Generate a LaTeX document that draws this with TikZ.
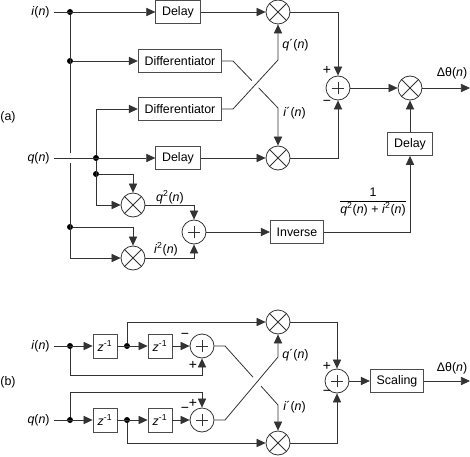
\documentclass[tikz,border=0pt]{standalone}
\usepackage{amsmath}
\usepackage{fontspec}
\setmainfont{Liberation Sans}
\usetikzlibrary{arrows.meta,calc}
\tikzset{every picture/.style={line width=0.6pt}}
\tikzset{
  wire/.style={draw=black!80},
  sigarrow/.style={draw=black!80, -{Triangle[length=6.8pt,width=6.2pt]}},
  blockbox/.style={draw=black!70, minimum height=17.25pt, inner xsep=4.8pt, inner ysep=0pt},
  zbox/.style={draw=black!70, minimum size=18pt, inner sep=0pt},
  mult/.style={circle, draw=black!80, minimum size=18pt, inner sep=0pt,
    path picture={\draw[black!80] (path picture bounding box.north west) -- (path picture bounding box.south east)
      (path picture bounding box.north east) -- (path picture bounding box.south west);}},
  adder/.style={circle, draw=black!80, minimum size=18pt, inner sep=0pt,
    path picture={\draw[black!80] ([xshift=-4.8pt]path picture bounding box.center) -- ([xshift=4.8pt]path picture bounding box.center)
      ([yshift=-4.8pt]path picture bounding box.center) -- ([yshift=4.8pt]path picture bounding box.center);}},
  jdot/.style={circle, fill=black, inner sep=0pt, minimum size=4.5pt},
  sgn/.style={inner sep=0.75pt, font=\fontsize{10.5}{12}\selectfont},
}

\begin{document}
\begin{tikzpicture}[x=0.75pt,y=0.75pt,yscale=-1,xscale=1,font=\fontsize{9.3}{11.2}\selectfont]
\path[use as bounding box] (0,0) rectangle (470,456);

%%%%%%%%%%%%%%%% (a)
%Shape: Rectangle
\node[blockbox] (dlyA1) at (178,12) {Delay};
\node[blockbox] (difA1) at (180,61) {Differentiator};
\node[blockbox] (difA2) at (180,109) {Differentiator};
\node[blockbox] (dlyA2) at (178,158) {Delay};
\node[blockbox] (dlyA3) at (410,144) {Delay};
\node[blockbox] (invA) at (297,232) {Inverse};
%Shape: Circle
\node[mult] (mulA1) at (278,12) {};
\node[mult] (mulA2) at (278,158) {};
\node[mult] (mulA3) at (410,88) {};
\node[mult] (sqQ) at (133,205) {};
\node[mult] (sqI) at (133,258) {};
\node[adder] (addA1) at (338,88) {};
\node[adder] (addA2) at (194,232) {};
%Shape: Dots
\node[jdot] (jA1) at (70,12) {};
\node[jdot] (jA2) at (70,61) {};
\node[jdot] (jA3) at (70,227) {};
\node[jdot] (jA4) at (96,158) {};
\node[jdot] (jA5) at (96,174) {};
\coordinate (hopAt) at (70,153);
\coordinate (hopAb) at (70,163);
\coordinate (kneeAi) at (233,61);
\coordinate (turnAi) at (278,108);
\coordinate (kneeAq) at (233,109);
\coordinate (turnAq) at (278,60);
\coordinate (outA) at (470,88);

% Text Node
\draw (54,12) node [anchor=east, inner sep=3pt] (inA) {\textit{i}(\textit{n})};
% Text Node
\draw (54,158) node [anchor=east, inner sep=3pt] (qnA) {\textit{q}(\textit{n})};
% Text Node
\draw (8,117) node [inner sep=0.75pt] (tagA) {(a)};
% Text Node
\draw (327,70) node [sgn] (plA) {+};
% Text Node
\draw (327,103) node [sgn] (miA) {−};
% Text Node
\draw (281,45) node [anchor=west, inner sep=0.75pt] (qdA) {\textit{q}´(\textit{n})};
% Text Node
\draw (282,113) node [anchor=west, inner sep=0.75pt] (idA) {\textit{i}´(\textit{n})};
% Text Node
\draw (170,197) node [inner sep=0.75pt] (qsA) {\textit{q}\textsuperscript{2}(\textit{n})};
% Text Node
\draw (166,249) node [inner sep=0.75pt] (isA) {\textit{i}\textsuperscript{2}(\textit{n})};
% Text Node
\draw (373,202) node [inner sep=0.75pt] (frA) {$\dfrac{\text{1}}{\text{\textit{q}\textsuperscript{2}(\textit{n}) + \textit{i}\textsuperscript{2}(\textit{n})}}$};
% Text Node
\draw (452,73) node [inner sep=0.75pt] (thA) {Δθ(\textit{n})};

%Straight Lines
\draw[sigarrow] (inA) -- (dlyA1);
\draw[sigarrow] (dlyA1) -- (mulA1);
\draw[wire] (jA1) -- (hopAt);
\draw[sigarrow] (hopAb) |- (sqI);
\draw[sigarrow] (jA2) -- (difA1);
\draw[sigarrow] (jA3) -| (sqI);
\draw[sigarrow] (qnA) -- (dlyA2);
\draw[sigarrow] (jA4) |- (difA2);
\draw[sigarrow] (jA4) |- (sqQ);
\draw[sigarrow] (jA5) -| (sqQ);
\draw[sigarrow] (dlyA2) -- (mulA2);
\draw[wire] (difA1) -- (kneeAi) -- ($(kneeAi)!0.42!(turnAi)$);
\draw[sigarrow] ($(kneeAi)!0.57!(turnAi)$) -- (turnAi) -- (mulA2);
\draw[sigarrow] (difA2) -- (kneeAq) -- (turnAq) -- (mulA1);
\draw[sigarrow] (mulA1) -| (addA1);
\draw[sigarrow] (mulA2) -| (addA1);
\draw[sigarrow] (addA1) -- (mulA3);
\draw[sigarrow] (mulA3) -- (outA);
\draw[sigarrow] (sqQ) -| (addA2);
\draw[sigarrow] (sqI) -| (addA2);
\draw[sigarrow] (addA2) -- (invA);
\draw[sigarrow] (invA) -| (dlyA3);
\draw[sigarrow] (dlyA3) -- (mulA3);

%%%%%%%%%%%%%%%% (b)
%Shape: Rectangle
\node[zbox] (zB1) at (105,346) {\textit{z}\textsuperscript{-1}};
\node[zbox] (zB2) at (160,346) {\textit{z}\textsuperscript{-1}};
\node[zbox] (zB3) at (105,420) {\textit{z}\textsuperscript{-1}};
\node[zbox] (zB4) at (160,420) {\textit{z}\textsuperscript{-1}};
\node[blockbox] (scB) at (397,381) {Scaling};
%Shape: Circle
\node[adder] (addB1) at (202,346) {};
\node[adder] (addB2) at (202,420) {};
\node[adder] (addB3) at (337,381) {};
\node[mult] (mulB1) at (278,322) {};
\node[mult] (mulB2) at (278,443) {};
%Shape: Dots
\node[jdot] (jB1) at (70,346) {};
\node[jdot] (jB2) at (127,346) {};
\node[jdot] (jB3) at (70,420) {};
\node[jdot] (jB4) at (127,420) {};
\coordinate (kneeBi) at (225,346);
\coordinate (turnBi) at (278,405);
\coordinate (kneeBq) at (225,420);
\coordinate (turnBq) at (278,357);
\coordinate (outB) at (470,381);

% Text Node
\draw (54,346) node [anchor=east, inner sep=3pt] (inB) {\textit{i}(\textit{n})};
% Text Node
\draw (54,420) node [anchor=east, inner sep=3pt] (qnB) {\textit{q}(\textit{n})};
% Text Node
\draw (8,382) node [inner sep=0.75pt] (tagB) {(b)};
% Text Node
\draw (185,336) node [sgn] (miB1) {−};
% Text Node
\draw (193,365) node [sgn] (plB1) {+};
% Text Node
\draw (193,403) node [sgn] (plB2) {+};
% Text Node
\draw (185,410) node [sgn] (miB2) {−};
% Text Node
\draw (327,366) node [sgn] (plB3) {+};
% Text Node
\draw (327,393) node [sgn] (miB3) {−};
% Text Node
\draw (281,355) node [anchor=west, inner sep=0.75pt] (qdB) {\textit{q}´(\textit{n})};
% Text Node
\draw (282,407) node [anchor=west, inner sep=0.75pt] (idB) {\textit{i}´(\textit{n})};
% Text Node
\draw (452,368) node [inner sep=0.75pt] (thB) {Δθ(\textit{n})};

%Straight Lines
\draw[sigarrow] (inB) -- (zB1);
\draw[sigarrow] (zB1) -- (zB2);
\draw[sigarrow] (zB2) -- (addB1);
\draw[sigarrow] (jB1) -- ++(0,29) -| (addB1);
\draw[sigarrow] (jB2) |- (mulB1);
\draw[sigarrow] (qnB) -- (zB3);
\draw[sigarrow] (zB3) -- (zB4);
\draw[sigarrow] (zB4) -- (addB2);
\draw[sigarrow] (jB3) -- ++(0,-28) -| (addB2);
\draw[sigarrow] (jB4) |- (mulB2);
\draw[wire] (addB1) -- (kneeBi) -- ($(kneeBi)!0.53!(turnBi)$);
\draw[sigarrow] ($(kneeBi)!0.68!(turnBi)$) -- (turnBi) -- (mulB2);
\draw[sigarrow] (addB2) -- (kneeBq) -- (turnBq) -- (mulB1);
\draw[sigarrow] (mulB1) -| (addB3);
\draw[sigarrow] (mulB2) -| (addB3);
\draw[sigarrow] (addB3) -- (scB);
\draw[sigarrow] (scB) -- (outB);

\end{tikzpicture}
\end{document}
